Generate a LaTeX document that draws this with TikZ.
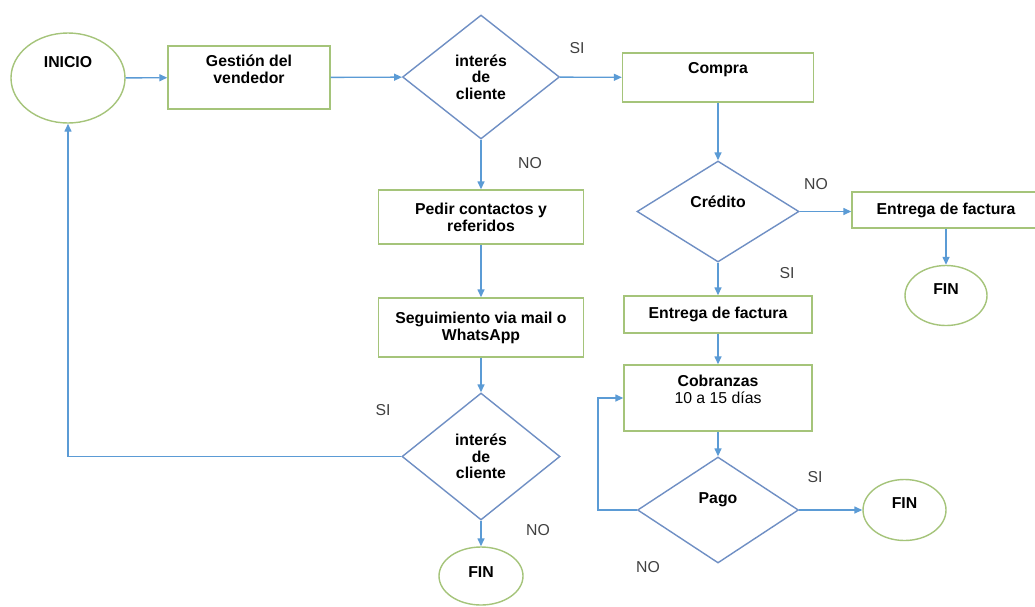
\documentclass[tikz,border=0pt]{standalone}
\usepackage{fontspec}
\setmainfont{Liberation Sans}
\usepackage{tikz}
\usetikzlibrary{arrows.meta}
\usetikzlibrary{shapes.geometric}
\usepackage{xcolor}
\definecolor{linea}{HTML}{5B9BD5}
\definecolor{borde}{HTML}{A5C47A}
\definecolor{rombo}{HTML}{6F8FC4}
\definecolor{gris}{HTML}{404040}

\begin{document}
\begin{tikzpicture}[x=1pt,y=-1pt,
  caja/.style={draw=borde,line width=1.4pt,fill=white,inner sep=0pt,align=center,font=\bfseries\fontsize{15.8}{17}\selectfont},
  decision/.style={diamond,draw=rombo,line width=1.4pt,fill=white,inner sep=0pt,align=center,font=\bfseries\fontsize{15.8}{16.5}\selectfont},
  terminal/.style={ellipse,draw=borde,line width=1.4pt,fill=white,inner sep=0pt,align=center,font=\bfseries\fontsize{15.8}{16}\selectfont},
  flecha/.style={draw=linea,line width=1.4pt,-{Triangle[length=8pt,width=7pt]}},
  sino/.style={text=gris,font=\fontsize{15.8}{17}\selectfont}]
\fill [white] (0,0) rectangle (1035,606);
\useasboundingbox (0,0) rectangle (1035,606);
\node [terminal,minimum width=114,minimum height=90] (inicio) at (68,78) {INICIO\\[16pt]\phantom{I}};
\node [caja,minimum width=162,minimum height=63] (gestion) at (249,77.5) {Gestión del\\vendedor\\\phantom{I}};
\node [decision,minimum width=157,minimum height=124] (interes1) at (481,77) {interés\\de\\cliente};
\node [caja,minimum width=191,minimum height=49] (compra) at (718,77.5) {Compra\\[2pt]\phantom{I}};
\node [caja,minimum width=205,minimum height=54] (pedir) at (481,217) {Pedir contactos y\\referidos};
\node [caja,minimum width=205,minimum height=59] (seguimiento) at (481,327.5) {Seguimiento via mail o\\WhatsApp};
\node [decision,minimum width=158,minimum height=127] (interes2) at (481,456.5) {interés\\de\\cliente};
\node [terminal,minimum width=84,minimum height=58] (fin1) at (481,576) {FIN\\[-8pt]\phantom{I}};
\node [decision,minimum width=162,minimum height=101] (credito) at (718,211.5) {Crédito\\[3pt]\phantom{I}};
\node [caja,minimum width=188,minimum height=36] (factura1) at (946,210) {Entrega de factura};
\node [terminal,minimum width=82,minimum height=60] (fin2) at (946,295.5) {FIN\\[-4pt]\phantom{I}};
\node [caja,minimum width=188,minimum height=37] (factura2) at (718,314.5) {Entrega de factura};
\node [caja,minimum width=188,minimum height=66] (cobranzas) at (718,398) {Cobranzas\\{\mdseries 10 a 15 días}\\\phantom{I}};
\node [decision,minimum width=161,minimum height=106] (pago) at (718,510) {Pago\\[7pt]\phantom{I}};
\node [terminal,minimum width=83,minimum height=61] (fin3) at (904.5,510) {FIN\\[-2pt]\phantom{I}};
\node [sino] (si1) at (577,48) {SI};
\node [sino] (no1) at (530,163) {NO};
\node [sino] (no2) at (816,184) {NO};
\node [sino] (si2) at (787,273) {SI};
\node [sino] (si3) at (815,477) {SI};
\node [sino] (no3) at (648,567) {NO};
\node [sino] (si4) at (383,410) {SI};
\node [sino] (no4) at (538,530) {NO};
\draw [flecha] (inicio) -- (gestion);
\draw [flecha] (gestion) -- (interes1);
\draw [flecha] (interes1) -- (compra);
\draw [flecha] (interes1) -- (pedir);
\draw [flecha] (pedir) -- (seguimiento);
\draw [flecha] (seguimiento) -- (interes2);
\draw [flecha] (interes2) -- (fin1);
\draw [flecha] (interes2.west) -| (inicio.south);
\draw [flecha] (compra) -- (credito);
\draw [flecha] (credito.east) -- (credito.east -| factura1.west);
\draw [flecha] (factura1) -- (fin2);
\draw [flecha] (credito) -- (factura2);
\draw [flecha] (factura2) -- (cobranzas);
\draw [flecha] (cobranzas) -- (pago);
\draw [flecha] (pago) -- (fin3);
\draw [flecha] (pago.west) -- ++(-39,0) |- (cobranzas.west);
\end{tikzpicture}
\end{document}
